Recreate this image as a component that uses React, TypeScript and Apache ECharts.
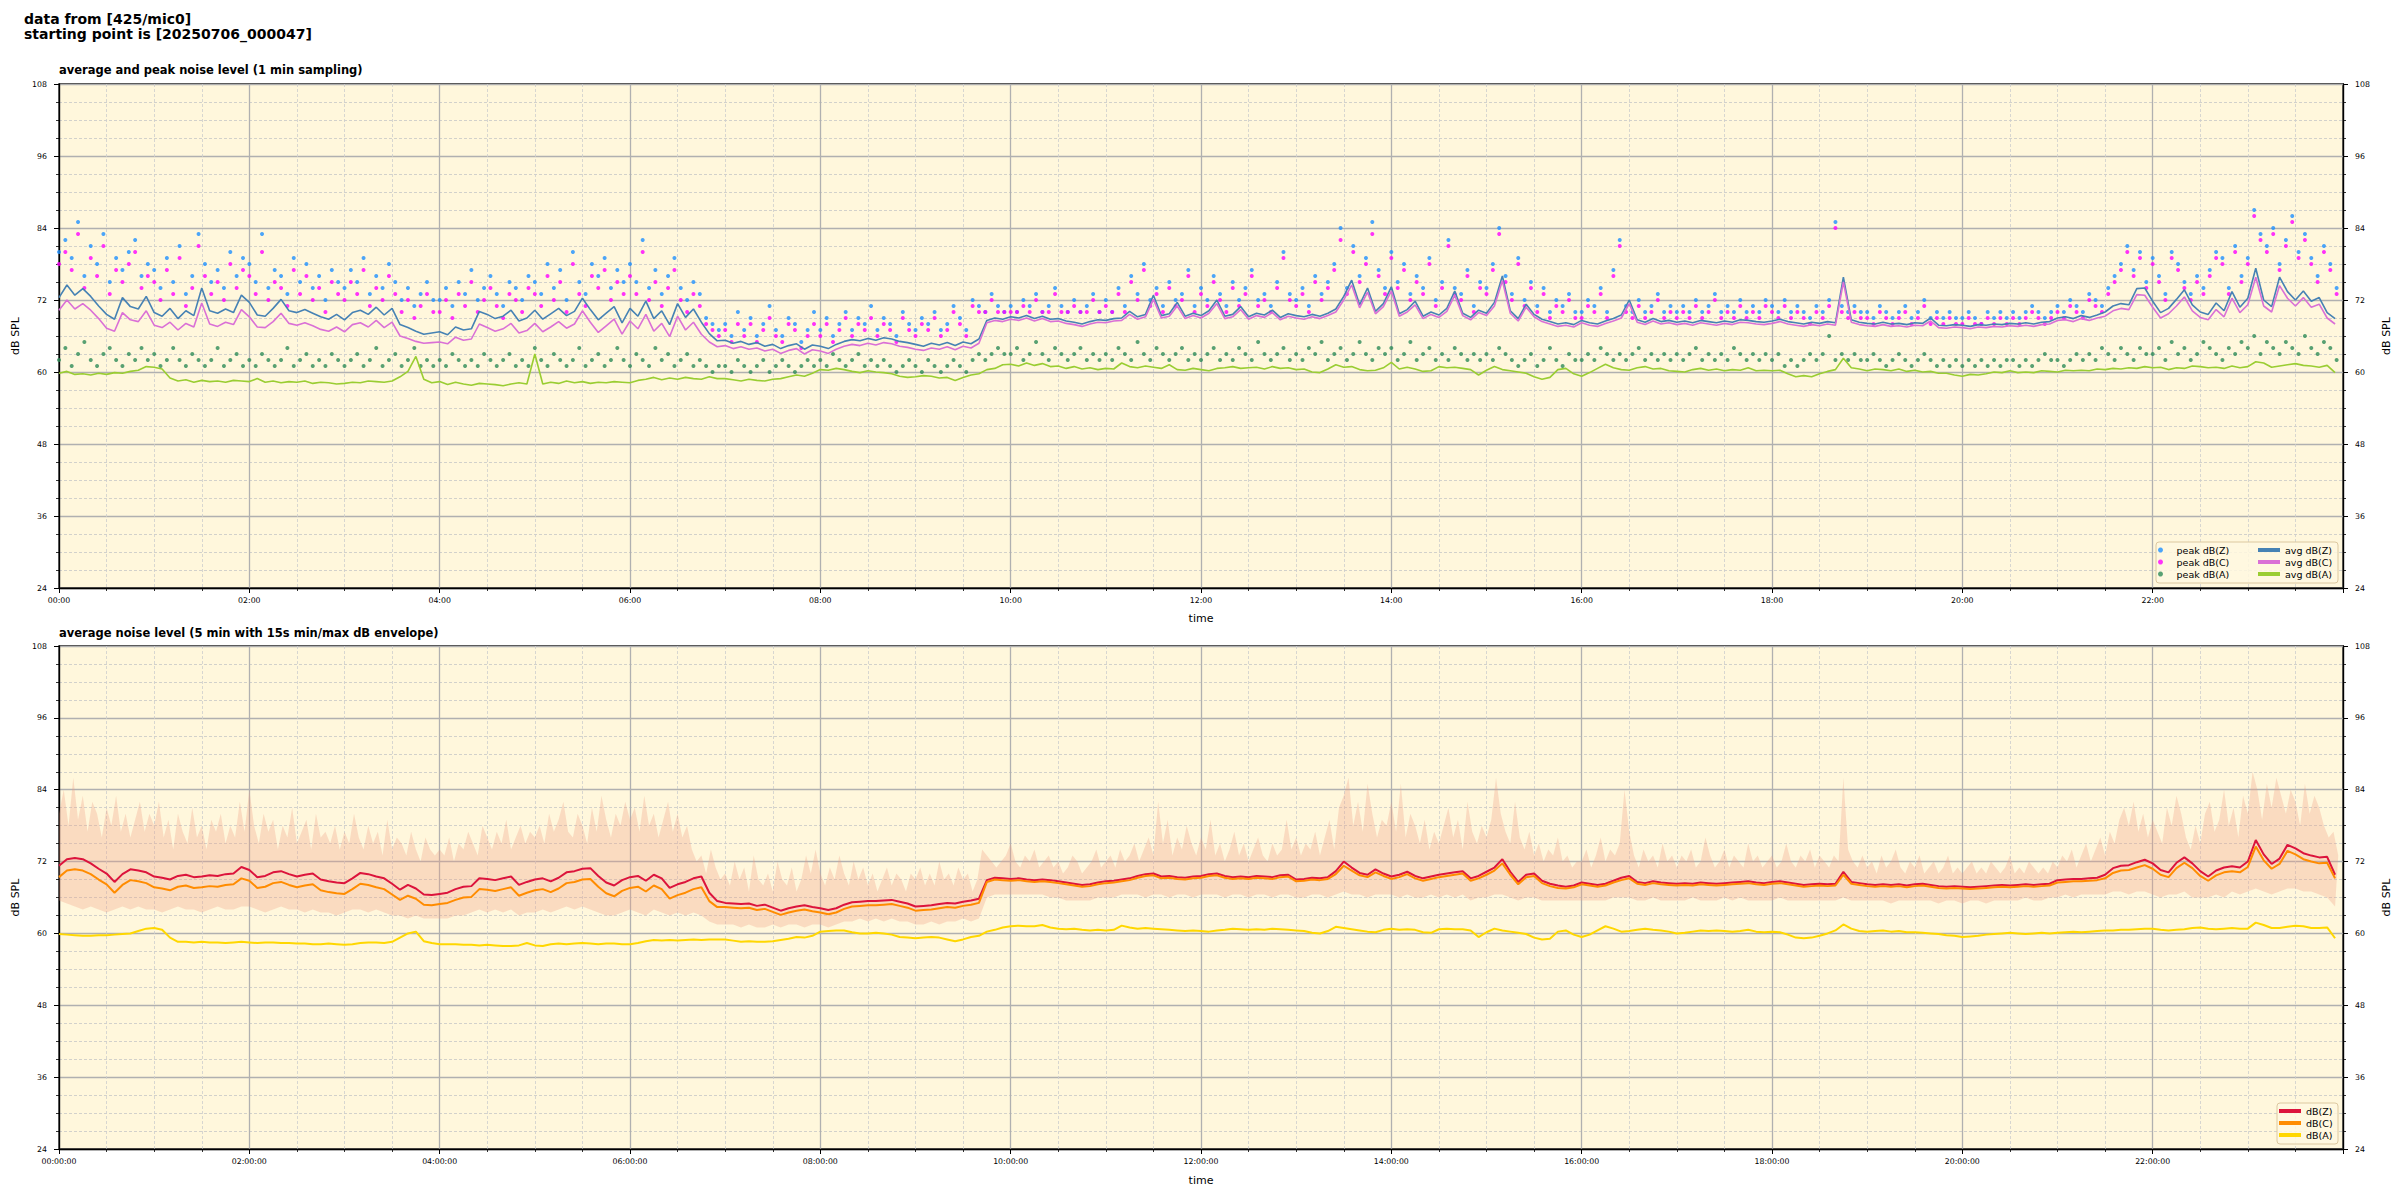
import React, { useEffect, useRef } from 'react';
import * as echarts from 'echarts';

// ---------- data (hour rows) ----------
// top panel: 1-min sampling shown at 5-min resolution (12 per hour)
const AVG_PER_HOUR = 12;
const avgZ = [
  72.4, 74.5, 72.8, 73.9, 72.6, 71.0, 69.6, 68.8, 72.4, 70.9, 70.5, 72.6,
  69.9, 69.3, 70.6, 68.9, 70.2, 69.4, 74.0, 70.2, 69.8, 70.5, 69.9, 72.8,
  71.6, 69.5, 69.3, 70.6, 72.1, 70.2, 69.9, 70.4, 69.8, 69.2, 68.8, 69.6,
  68.7, 69.9, 70.3, 69.6, 70.8, 69.5, 70.6, 67.9, 67.4, 66.8, 66.3, 66.5,
  66.7, 66.2, 67.5, 67.0, 67.2, 70.1, 69.6, 68.9, 69.3, 70.3, 68.5, 69.0,
  70.3, 68.8, 69.7, 70.6, 69.4, 70.1, 72.3, 70.4, 68.7, 69.8, 70.9, 68.2,
  70.6, 69.3, 71.8, 68.9, 70.2, 67.9, 71.4, 69.1, 70.5, 68.3, 66.4, 65.2,
  65.3, 64.8, 65.1, 64.6, 64.9, 64.3, 64.6, 63.9, 64.4, 64.7, 63.8, 64.5,
  64.3, 63.9, 64.6, 65.1, 65.4, 65.2, 65.6, 65.3, 65.7, 65.5, 65.1, 64.9,
  64.6, 64.3, 64.8, 64.5, 64.9, 64.4, 65.0, 64.7, 65.5, 68.6, 69.0, 68.8,
  69.2, 69.0, 69.4, 68.9, 69.3, 68.8, 68.9, 68.5, 68.3, 68.0, 68.4, 68.7,
  68.6, 68.9, 69.0, 70.1, 69.2, 69.6, 72.8, 69.4, 69.7, 71.6, 69.3, 69.8,
  69.4, 70.2, 72.0, 69.3, 69.6, 70.9, 69.2, 69.8, 69.5, 70.3, 69.1, 69.7,
  69.4, 69.2, 69.6, 69.3, 69.8, 70.5, 72.6, 75.3, 71.2, 74.0, 70.1, 71.4,
  74.2, 69.7, 70.4, 71.8, 69.3, 70.0, 69.5, 70.6, 73.5, 69.8, 69.1, 70.3,
  69.8, 71.6, 76.0, 70.2, 68.9, 71.3, 69.6, 68.8, 68.4, 68.0, 68.2, 67.9,
  68.6, 68.2, 68.0, 68.5, 68.9, 69.5, 72.0, 68.7, 68.3, 68.9, 68.4, 68.6,
  68.3, 68.5, 68.2, 68.6, 68.4, 68.2, 68.5, 68.3, 68.7, 68.6, 68.4, 68.3,
  68.5, 68.8, 68.4, 68.2, 68.0, 68.3, 68.1, 68.4, 68.2, 75.8, 68.7, 68.3,
  68.1, 68.0, 68.3, 68.0, 68.1, 67.9, 68.2, 68.1, 69.0, 67.8, 67.7, 67.9,
  67.8, 67.6, 67.9, 67.8, 68.0, 67.9, 68.1, 68.0, 68.2, 68.0, 68.3, 68.4,
  69.0, 69.2, 68.9, 69.4, 69.1, 69.5, 70.0, 71.0, 71.4, 71.2, 73.9, 74.0,
  71.8, 69.9, 70.6, 72.1, 73.7, 71.2, 70.0, 69.6, 71.5, 70.2, 73.4, 70.8,
  72.3, 77.3, 72.0, 70.9, 75.8, 73.4, 72.0, 73.5, 71.8, 72.4, 69.9, 68.9,
];
const avgC = [
  70.3, 72.0, 70.5, 71.4, 70.3, 68.9, 67.3, 66.8, 69.9, 68.7, 68.4, 70.2,
  67.8, 67.4, 68.3, 67.0, 68.1, 67.5, 71.5, 68.0, 67.6, 68.3, 67.9, 70.4,
  69.2, 67.5, 67.4, 68.4, 69.8, 68.1, 67.8, 68.2, 67.7, 67.1, 66.8, 67.5,
  66.7, 67.9, 68.2, 67.5, 68.6, 67.4, 68.3, 66.0, 65.6, 65.1, 64.8, 64.9,
  65.0, 64.7, 65.8, 65.3, 65.5, 68.0, 67.4, 66.8, 67.2, 68.1, 66.5, 66.9,
  68.1, 66.7, 67.5, 68.4, 67.3, 68.0, 70.2, 68.3, 66.6, 67.7, 68.8, 66.3,
  68.5, 67.2, 69.6, 66.8, 68.1, 65.9, 69.3, 67.0, 68.3, 66.3, 65.0, 64.2,
  64.4, 63.9, 64.2, 63.8, 64.0, 63.5, 63.8, 63.1, 63.6, 63.9, 63.0, 63.7,
  63.5, 63.1, 63.8, 64.3, 64.6, 64.4, 64.8, 64.5, 64.9, 64.7, 64.3, 64.1,
  63.8, 63.6, 64.0, 63.8, 64.2, 63.7, 64.3, 64.0, 64.8, 68.2, 68.6, 68.4,
  68.8, 68.6, 69.0, 68.5, 68.9, 68.4, 68.5, 68.1, 67.9, 67.6, 68.0, 68.3,
  68.2, 68.5, 68.6, 69.6, 68.8, 69.2, 72.1, 69.0, 69.3, 71.0, 68.9, 69.4,
  69.0, 69.8, 71.4, 68.9, 69.2, 70.4, 68.8, 69.4, 69.1, 69.9, 68.7, 69.3,
  69.0, 68.8, 69.2, 68.9, 69.4, 70.0, 72.0, 74.5, 70.7, 73.3, 69.7, 70.9,
  73.5, 69.3, 70.0, 71.2, 68.9, 69.6, 69.1, 70.1, 72.8, 69.4, 68.7, 69.9,
  69.4, 71.0, 75.2, 69.8, 68.5, 70.8, 69.2, 68.4, 68.0, 67.6, 67.8, 67.5,
  68.2, 67.8, 67.6, 68.1, 68.5, 69.0, 71.4, 68.3, 67.9, 68.5, 68.0, 68.2,
  67.9, 68.1, 67.8, 68.2, 68.0, 67.8, 68.1, 67.9, 68.3, 68.2, 68.0, 67.9,
  68.1, 68.4, 68.0, 67.8, 67.6, 67.9, 67.7, 68.0, 67.8, 75.0, 68.3, 67.9,
  67.7, 67.6, 67.9, 67.6, 67.7, 67.5, 67.8, 67.7, 68.5, 67.4, 67.3, 67.5,
  67.4, 67.2, 67.5, 67.4, 67.6, 67.5, 67.7, 67.6, 67.8, 67.6, 67.9, 68.0,
  68.6, 68.7, 68.4, 68.9, 68.6, 69.0, 69.3, 70.2, 70.6, 70.4, 72.9, 72.8,
  70.8, 69.0, 69.7, 71.0, 72.5, 70.2, 69.1, 68.7, 70.4, 69.2, 72.3, 69.9,
  71.2, 75.8, 71.0, 70.0, 74.4, 72.3, 71.0, 72.4, 70.8, 71.3, 69.0, 68.0,
];
const avgA = [
  59.8, 60.1, 59.6, 59.7, 59.5, 59.8, 59.6, 59.9, 59.8, 60.1, 60.3, 60.9,
  60.8, 60.5, 59.0, 58.5, 58.7, 58.3, 58.6, 58.4, 58.5, 58.3, 58.6, 58.5,
  58.4, 58.9, 58.3, 58.5, 58.2, 58.4, 58.3, 58.5, 58.1, 58.3, 58.2, 58.0,
  58.1, 58.3, 58.2, 58.5, 58.4, 58.3, 58.5, 59.2, 60.1, 62.6, 58.8, 58.2,
  58.4, 57.9, 58.3, 58.0, 57.8, 58.1, 58.0, 57.9, 57.7, 58.0, 58.2, 58.0,
  63.0, 58.0, 58.3, 58.1, 58.5, 58.2, 58.4, 58.1, 58.3, 58.2, 58.4, 58.3,
  58.2, 58.6, 58.8, 59.1, 58.7, 59.0, 58.8, 59.1, 58.9, 58.8, 59.2, 58.9,
  58.9, 58.7, 58.5, 58.8, 58.6, 58.5, 58.8, 58.9, 59.2, 59.5, 59.3, 59.8,
  60.4, 60.3, 60.6, 60.4, 60.1, 59.9, 60.2, 60.0, 59.9, 59.7, 59.3, 59.1,
  59.2, 59.4, 59.3, 59.0, 59.1, 58.6, 59.1, 59.5, 59.7, 60.4, 60.6, 61.2,
  61.3, 61.0, 61.5, 61.1, 61.4, 60.9, 61.0, 60.6, 60.9, 60.5, 60.7, 60.4,
  60.6, 60.5, 61.5, 60.9, 60.7, 61.0, 60.8, 60.6, 61.2, 60.4, 60.3, 60.6,
  60.4, 60.2, 60.6, 60.7, 60.9, 60.6, 60.7, 60.8, 60.5, 60.9, 60.6, 60.7,
  60.4, 60.5, 60.0, 59.9, 60.5, 61.2, 60.8, 60.9, 60.4, 60.2, 60.3, 60.7,
  61.6, 60.5, 60.8, 60.5, 60.1, 60.2, 60.9, 60.7, 60.8, 60.6, 60.4, 59.5,
  60.3, 60.9, 60.4, 60.2, 60.0, 59.8, 59.2, 58.8, 59.1, 60.4, 60.6, 59.7,
  59.3, 59.9, 60.6, 61.3, 60.7, 60.4, 60.3, 60.7, 60.9, 60.5, 60.6, 60.2,
  60.1, 60.0, 60.4, 60.6, 60.3, 60.5, 60.2, 60.4, 60.3, 60.7, 60.2, 60.3,
  60.2, 60.3, 59.7, 59.2, 59.4, 59.2, 59.7, 60.1, 60.4, 62.3, 60.7, 60.5,
  60.2, 60.5, 60.4, 60.2, 60.5, 60.1, 60.3, 60.0, 60.1, 59.8, 59.8, 59.5,
  59.3, 59.6, 59.5, 59.7, 60.0, 59.9, 60.2, 59.9, 60.0, 59.9, 60.2, 60.1,
  60.0, 60.3, 60.2, 60.3, 60.2, 60.5, 60.4, 60.6, 60.5, 60.7, 60.6, 60.9,
  60.7, 60.8, 60.4, 60.7, 60.6, 61.0, 60.9, 60.7, 60.8, 60.6, 61.0, 60.7,
  60.9, 61.7, 61.5, 60.8, 61.0, 61.2, 61.4, 61.1, 61.0, 60.8, 61.1, 59.9,
];

// peak values (4-min resolution, 15 per hour)
const PEAK_PER_HOUR = 15;
const peakZ = [
  80, 82, 79, 85, 76, 81, 78, 83, 75, 79, 77, 80, 82, 76, 78,
  77, 74, 79, 75, 81, 73, 76, 83, 78, 75, 77, 74, 80, 76, 79,
  78, 75, 83, 74, 77, 76, 73, 79, 75, 78, 74, 76, 72, 77, 75,
  74, 77, 75, 79, 73, 76, 74, 78, 75, 72, 74, 71, 73, 75, 72,
  72, 74, 71, 75, 73, 77, 72, 74, 76, 73, 71, 75, 74, 72, 76,
  75, 73, 78, 74, 77, 72, 80, 75, 73, 78, 76, 79, 74, 77, 75,
  78, 75, 82, 74, 77, 73, 76, 79, 74, 72, 75, 73, 69, 68, 67,
  68, 66, 70, 67, 69, 66, 68, 71, 67, 66, 69, 68, 65, 67, 70,
  67, 69, 66, 68, 70, 67, 69, 68, 71, 67, 69, 68, 66, 70, 68,
  67, 69, 68, 70, 67, 68, 71, 69, 67, 72, 71, 70, 73, 71, 70,
  71, 70, 72, 71, 73, 70, 71, 74, 71, 70, 72, 70, 71, 73, 70,
  72, 70, 74, 71, 76, 73, 78, 72, 74, 71, 75, 72, 73, 77, 71,
  74, 72, 76, 73, 71, 75, 72, 74, 77, 72, 73, 71, 75, 80, 73,
  72, 74, 71, 76, 73, 75, 78, 84, 74, 81, 76, 79, 85, 77, 74,
  80, 75, 78, 73, 76, 74, 79, 72, 75, 82, 74, 73, 77, 71, 75,
  74, 78, 84, 76, 73, 79, 72, 75, 71, 74, 70, 72, 71, 73, 70,
  70, 72, 71, 74, 70, 77, 82, 71, 70, 72, 70, 71, 73, 70, 71,
  70, 71, 70, 72, 70, 71, 73, 70, 71, 70, 72, 70, 71, 70, 72,
  71, 70, 72, 70, 71, 70, 69, 71, 70, 72, 85, 71, 70, 71, 70,
  70, 69, 71, 70, 69, 70, 71, 69, 70, 72, 69, 70, 69, 70, 69,
  69, 70, 69, 68, 70, 69, 70, 69, 70, 69, 70, 71, 70, 69, 70,
  71, 70, 72, 71, 70, 73, 72, 71, 74, 76, 78, 81, 77, 80, 75,
  79, 76, 73, 80, 78, 75, 73, 76, 74, 77, 80, 79, 74, 81, 76,
  79, 87, 83, 81, 84, 78, 82, 86, 80, 83, 79, 76, 81, 78, 74,
];
const peakC = [
  78, 80, 77, 83, 74, 79, 76, 81, 73, 77, 75, 78, 80, 74, 76,
  75, 72, 77, 73, 79, 71, 74, 81, 76, 73, 75, 72, 78, 74, 77,
  76, 73, 80, 72, 75, 74, 71, 77, 73, 76, 72, 74, 70, 75, 73,
  72, 75, 73, 77, 71, 74, 72, 76, 73, 70, 72, 69, 71, 73, 70,
  70, 72, 69, 73, 71, 75, 70, 72, 74, 71, 69, 73, 72, 70, 74,
  73, 71, 76, 72, 75, 70, 78, 73, 71, 76, 74, 77, 72, 75, 73,
  76, 73, 80, 72, 75, 71, 74, 77, 72, 70, 73, 71, 68, 67, 66,
  67, 65, 68, 66, 68, 65, 67, 69, 66, 65, 68, 67, 64, 66, 68,
  66, 68, 65, 67, 69, 66, 68, 67, 69, 66, 68, 67, 65, 69, 67,
  66, 68, 67, 69, 66, 67, 70, 68, 66, 71, 70, 70, 72, 70, 70,
  70, 70, 71, 70, 72, 70, 70, 73, 70, 70, 71, 70, 70, 72, 70,
  71, 70, 73, 70, 75, 72, 77, 71, 73, 70, 74, 71, 72, 76, 70,
  73, 71, 75, 72, 70, 74, 71, 73, 76, 71, 72, 70, 74, 79, 72,
  71, 73, 70, 75, 72, 74, 77, 82, 73, 80, 75, 78, 83, 76, 73,
  79, 74, 77, 72, 75, 73, 78, 71, 74, 81, 73, 72, 76, 70, 74,
  73, 77, 83, 75, 72, 78, 71, 74, 70, 73, 69, 71, 70, 72, 69,
  69, 71, 70, 73, 69, 76, 81, 70, 69, 71, 69, 70, 72, 69, 70,
  69, 70, 69, 71, 69, 70, 72, 69, 70, 69, 71, 69, 70, 69, 71,
  70, 69, 71, 69, 70, 69, 68, 70, 69, 71, 84, 70, 69, 70, 69,
  69, 68, 70, 69, 68, 69, 70, 68, 69, 71, 68, 69, 68, 69, 68,
  68, 69, 68, 68, 69, 68, 69, 68, 69, 68, 69, 70, 69, 68, 69,
  70, 69, 71, 70, 69, 72, 71, 70, 73, 75, 77, 80, 76, 79, 74,
  78, 75, 72, 79, 77, 74, 72, 75, 73, 76, 79, 78, 73, 80, 75,
  78, 86, 82, 80, 83, 77, 81, 85, 79, 82, 78, 75, 80, 77, 73,
];
const peakA = [
  62, 64, 61, 63, 65, 62, 61, 63, 64, 62, 61, 63, 62, 64, 62,
  63, 61, 62, 64, 62, 61, 63, 62, 61, 62, 64, 61, 62, 63, 61,
  62, 61, 63, 62, 61, 62, 64, 61, 62, 63, 61, 62, 61, 63, 62,
  61, 62, 63, 61, 62, 64, 61, 62, 63, 61, 62, 64, 61, 62, 61,
  62, 61, 63, 62, 61, 62, 61, 63, 62, 61, 62, 63, 61, 62, 61,
  64, 62, 61, 63, 62, 61, 62, 64, 61, 62, 63, 61, 62, 64, 62,
  61, 63, 62, 61, 64, 62, 63, 61, 62, 63, 61, 62, 61, 60, 61,
  61, 60, 62, 61, 60, 61, 62, 60, 61, 62, 61, 60, 61, 62, 61,
  62, 61, 63, 62, 61, 62, 63, 61, 62, 61, 62, 61, 60, 61, 62,
  61, 60, 62, 61, 60, 61, 62, 61, 60, 62, 63, 62, 63, 64, 63,
  63, 64, 62, 63, 65, 63, 62, 64, 63, 62, 63, 64, 62, 63, 62,
  63, 62, 64, 63, 62, 65, 63, 62, 64, 63, 62, 63, 64, 62, 63,
  62, 63, 64, 62, 63, 62, 64, 63, 62, 65, 63, 62, 63, 64, 62,
  63, 62, 64, 63, 65, 62, 63, 64, 62, 63, 65, 63, 62, 64, 63,
  64, 62, 63, 65, 62, 63, 64, 62, 63, 62, 64, 63, 62, 63, 62,
  63, 62, 64, 63, 62, 61, 62, 63, 61, 62, 64, 62, 61, 63, 62,
  62, 63, 62, 64, 63, 62, 63, 62, 63, 64, 62, 63, 62, 63, 62,
  63, 62, 63, 64, 62, 63, 62, 63, 62, 64, 63, 62, 63, 62, 63,
  62, 63, 61, 62, 61, 62, 63, 62, 63, 66, 62, 63, 62, 63, 62,
  62, 63, 62, 61, 62, 63, 62, 61, 62, 63, 62, 61, 62, 61, 62,
  61, 62, 61, 62, 61, 62, 61, 62, 62, 61, 62, 61, 62, 63, 62,
  62, 61, 62, 63, 62, 63, 62, 64, 63, 62, 64, 63, 62, 64, 63,
  63, 64, 62, 65, 63, 64, 62, 63, 65, 64, 63, 62, 64, 63, 65,
  64, 66, 63, 65, 64, 63, 65, 64, 63, 66, 64, 63, 65, 64, 62,
];

// bottom panel: 5-min averages (12 per hour)
const lvlZ = [
  71.3, 72.4, 72.6, 72.4, 71.7, 70.8, 70.0, 68.6, 69.9, 70.7, 70.5, 70.2,
  69.5, 69.3, 69.0, 69.6, 69.8, 69.4, 69.5, 69.7, 69.6, 69.9, 70.0, 71.1,
  70.6, 69.4, 69.6, 70.2, 70.4, 69.9, 69.5, 69.8, 70.0, 69.0, 68.7, 68.5,
  68.4, 69.2, 70.1, 69.9, 69.5, 69.2, 68.3, 67.3, 68.1, 67.5, 66.5, 66.4,
  66.6, 66.8, 67.4, 67.8, 67.9, 69.2, 69.1, 68.9, 69.2, 69.5, 68.1, 68.6,
  69.0, 69.2, 68.7, 69.3, 70.2, 70.4, 70.8, 70.9, 69.6, 68.5, 68.0, 68.9,
  69.4, 69.6, 68.8, 69.8, 69.2, 67.6, 68.2, 68.6, 69.2, 69.5, 66.8, 65.4,
  65.1, 65.0, 64.9, 65.0, 64.6, 64.8, 64.3, 63.8, 64.2, 64.5, 64.7, 64.4,
  64.2, 63.9, 64.2, 64.8, 65.2, 65.3, 65.4, 65.4, 65.5, 65.6, 65.3, 65.0,
  64.5, 64.6, 64.7, 64.9, 65.1, 65.0, 65.3, 65.5, 65.8, 68.9, 69.3, 69.2,
  69.1, 69.2, 69.0, 68.9, 69.0, 68.9, 68.7, 68.5, 68.3, 68.1, 68.2, 68.5,
  68.7, 68.8, 69.0, 69.2, 69.6, 69.9, 70.0, 69.5, 69.6, 69.4, 69.3, 69.5,
  69.6, 69.9, 70.0, 69.6, 69.4, 69.5, 69.4, 69.6, 69.5, 69.4, 69.7, 69.8,
  69.0, 69.1, 69.3, 69.2, 69.4, 70.4, 72.0, 71.0, 70.1, 69.8, 70.7, 70.0,
  69.5, 69.8, 70.3, 69.6, 69.2, 69.5, 69.8, 70.0, 70.2, 70.4, 69.2, 69.6,
  70.3, 71.0, 72.4, 70.3, 68.6, 69.8, 70.0, 68.8, 68.3, 68.0, 67.8, 68.0,
  68.5, 68.3, 68.1, 68.3, 68.8, 69.3, 69.6, 68.6, 68.4, 68.7, 68.5, 68.4,
  68.3, 68.4, 68.3, 68.5, 68.4, 68.3, 68.4, 68.5, 68.6, 68.7, 68.5, 68.4,
  68.6, 68.7, 68.5, 68.3, 68.1, 68.2, 68.3, 68.2, 68.3, 70.3, 68.6, 68.4,
  68.2, 68.1, 68.2, 68.1, 68.2, 68.0, 68.2, 68.3, 68.1, 67.9, 67.8, 67.9,
  67.8, 67.7, 67.8, 67.9, 68.0, 68.1, 68.0, 68.1, 68.2, 68.1, 68.2, 68.3,
  68.9, 69.0, 69.1, 69.1, 69.2, 69.3, 69.8, 70.9, 71.3, 71.4, 71.9, 72.3,
  71.7, 70.6, 70.2, 71.8, 72.7, 71.7, 70.4, 69.5, 70.5, 71.0, 71.2, 71.0,
  72.0, 75.6, 73.2, 71.6, 72.5, 74.8, 74.2, 73.4, 73.0, 72.7, 72.8, 69.8,
];
const lvlC = [
  69.4, 70.5, 70.7, 70.5, 69.9, 69.0, 68.2, 66.8, 68.1, 68.9, 68.7, 68.4,
  67.7, 67.5, 67.2, 67.8, 68.0, 67.6, 67.7, 67.9, 67.8, 68.1, 68.2, 69.2,
  68.8, 67.6, 67.8, 68.4, 68.6, 68.1, 67.7, 68.0, 68.2, 67.2, 66.9, 66.7,
  66.6, 67.4, 68.3, 68.1, 67.7, 67.4, 66.5, 65.6, 66.3, 65.8, 64.8, 64.7,
  64.9, 65.1, 65.6, 66.0, 66.1, 67.4, 67.3, 67.1, 67.4, 67.7, 66.3, 66.8,
  67.2, 67.4, 66.9, 67.5, 68.4, 68.6, 69.0, 69.1, 67.8, 66.7, 66.2, 67.1,
  67.6, 67.8, 67.0, 68.0, 67.4, 65.8, 66.4, 66.8, 67.4, 67.7, 65.4, 64.4,
  64.4, 64.3, 64.2, 64.3, 63.9, 64.1, 63.6, 63.1, 63.5, 63.8, 64.0, 63.7,
  63.5, 63.2, 63.5, 64.1, 64.5, 64.6, 64.7, 64.7, 64.8, 64.9, 64.6, 64.3,
  63.8, 63.9, 64.0, 64.2, 64.4, 64.3, 64.6, 64.8, 65.1, 68.6, 69.0, 68.9,
  68.8, 68.9, 68.7, 68.6, 68.7, 68.6, 68.4, 68.2, 68.0, 67.8, 67.9, 68.2,
  68.4, 68.5, 68.7, 68.9, 69.3, 69.6, 69.7, 69.2, 69.3, 69.1, 69.0, 69.2,
  69.3, 69.6, 69.7, 69.3, 69.1, 69.2, 69.1, 69.3, 69.2, 69.1, 69.4, 69.5,
  68.7, 68.8, 69.0, 68.9, 69.1, 69.9, 71.3, 70.5, 69.7, 69.4, 70.2, 69.6,
  69.1, 69.4, 69.9, 69.2, 68.8, 69.1, 69.4, 69.6, 69.8, 70.0, 68.8, 69.2,
  69.8, 70.5, 71.7, 69.8, 68.2, 69.4, 69.6, 68.4, 67.9, 67.6, 67.5, 67.7,
  68.2, 68.0, 67.8, 68.0, 68.5, 68.9, 69.2, 68.3, 68.1, 68.4, 68.2, 68.1,
  68.0, 68.1, 68.0, 68.2, 68.1, 68.0, 68.1, 68.2, 68.3, 68.4, 68.2, 68.1,
  68.3, 68.4, 68.2, 68.0, 67.8, 67.9, 68.0, 67.9, 68.0, 69.8, 68.3, 68.1,
  67.9, 67.8, 67.9, 67.8, 67.9, 67.7, 67.9, 68.0, 67.8, 67.6, 67.5, 67.6,
  67.5, 67.4, 67.5, 67.6, 67.7, 67.8, 67.7, 67.8, 67.9, 67.8, 67.9, 68.0,
  68.5, 68.6, 68.7, 68.7, 68.8, 68.9, 69.2, 70.1, 70.5, 70.6, 71.0, 71.4,
  70.8, 69.8, 69.4, 70.9, 71.8, 70.9, 69.6, 68.8, 69.7, 70.2, 70.4, 70.2,
  71.1, 74.5, 72.2, 70.8, 71.6, 73.8, 73.2, 72.4, 72.0, 71.7, 71.8, 69.2,
];
const lvlA = [
  59.9, 59.8, 59.7, 59.6, 59.6, 59.7, 59.7, 59.8, 59.9, 60.0, 60.4, 60.8,
  60.9, 60.6, 59.3, 58.6, 58.6, 58.5, 58.6, 58.5, 58.5, 58.4, 58.5, 58.6,
  58.5, 58.4, 58.5, 58.5, 58.4, 58.4, 58.3, 58.3, 58.2, 58.2, 58.3, 58.2,
  58.1, 58.2, 58.4, 58.5, 58.5, 58.4, 58.6, 59.3, 60.0, 60.3, 58.7, 58.4,
  58.2, 58.2, 58.2, 58.1, 58.1, 58.0, 58.1, 58.0, 57.9, 57.9, 58.0, 58.4,
  58.0, 57.9, 58.2, 58.3, 58.2, 58.3, 58.4, 58.3, 58.2, 58.3, 58.3, 58.2,
  58.2, 58.4, 58.7, 58.9, 58.8, 58.9, 58.8, 58.9, 59.0, 58.9, 59.0, 59.0,
  59.0, 58.8, 58.6, 58.7, 58.6, 58.6, 58.7, 58.9, 59.1, 59.4, 59.3, 59.6,
  60.3, 60.4, 60.5, 60.5, 60.2, 60.0, 60.0, 60.1, 60.0, 59.8, 59.4, 59.3,
  59.2, 59.3, 59.4, 59.3, 59.0, 58.7, 59.0, 59.4, 59.6, 60.3, 60.6, 61.0,
  61.2, 61.3, 61.2, 61.2, 61.4, 61.0, 60.8, 60.7, 60.8, 60.6, 60.5, 60.6,
  60.5, 60.6, 61.3, 61.0, 60.8, 60.9, 60.8, 60.7, 60.6, 60.5, 60.4, 60.5,
  60.4, 60.3, 60.5, 60.6, 60.8, 60.7, 60.6, 60.7, 60.6, 60.8, 60.7, 60.6,
  60.5, 60.4, 60.1, 60.0, 60.4, 61.1, 60.9, 60.7, 60.5, 60.3, 60.2, 60.6,
  60.8, 60.6, 60.7, 60.6, 60.2, 60.1, 60.7, 60.8, 60.7, 60.7, 60.5, 59.4,
  60.2, 60.8, 60.5, 60.3, 60.1, 59.9, 59.3, 59.0, 59.1, 60.3, 60.5, 59.8,
  59.4, 59.8, 60.5, 61.2, 60.8, 60.3, 60.4, 60.6, 60.8, 60.6, 60.5, 60.3,
  60.0, 60.1, 60.3, 60.5, 60.4, 60.5, 60.4, 60.3, 60.4, 60.6, 60.3, 60.2,
  60.3, 60.2, 59.8, 59.3, 59.2, 59.3, 59.6, 60.0, 60.5, 61.5, 60.8, 60.4,
  60.3, 60.4, 60.5, 60.3, 60.4, 60.2, 60.2, 60.1, 60.0, 59.9, 59.7, 59.6,
  59.4, 59.5, 59.6, 59.8, 59.9, 60.0, 60.1, 60.0, 59.9, 60.0, 60.1, 60.0,
  60.1, 60.2, 60.3, 60.2, 60.3, 60.4, 60.5, 60.5, 60.6, 60.6, 60.7, 60.8,
  60.8, 60.6, 60.5, 60.6, 60.7, 60.9, 61.0, 60.8, 60.7, 60.8, 60.9, 60.8,
  60.8, 61.8, 61.4, 60.9, 60.9, 61.1, 61.3, 61.2, 60.9, 60.9, 61.0, 59.2,
];

// 15s min/max envelope: max at 3-min resolution (20/h), min at 5-min (12/h)
const ENV_MAX_PER_HOUR = 20;
const envMax = [
  80, 84, 78, 86, 79, 83, 77, 82, 80, 76, 81, 78, 83, 77, 80, 76, 79, 82, 77, 80,
  78, 82, 76, 79, 74, 80, 77, 75, 81, 76, 78, 74, 79, 77, 80, 75, 78, 76, 82, 77,
  84, 78, 75, 80, 77, 79, 74, 78, 76, 81, 75, 77, 79, 74, 80, 76, 77, 75, 78, 74,
  77, 75, 80, 76, 74, 78, 75, 77, 73, 79, 74, 76, 75, 73, 77, 74, 72, 76, 74, 73,
  74, 73, 76, 72, 75, 74, 77, 75, 73, 78, 76, 74, 77, 75, 79, 74, 76, 78, 75, 77,
  76, 78, 75, 80, 77, 79, 82, 77, 76, 80, 78, 75, 81, 77, 83, 79, 76, 80, 78, 82,
  79, 81, 77, 83, 78, 80, 76, 79, 82, 77, 80, 76, 78, 74, 72, 73, 70, 74, 71, 69,
  70, 68, 72, 69, 71, 67, 73, 69, 68, 70, 67, 72, 69, 68, 71, 67, 69, 73, 70, 74,
  70, 68, 71, 69, 73, 70, 68, 72, 69, 71, 68, 70, 67, 69, 71, 68, 70, 69, 67, 70,
  69, 71, 68, 70, 68, 72, 69, 70, 68, 71, 69, 70, 67, 69, 74, 73, 72, 71, 72, 73,
  75, 72, 71, 73, 72, 74, 71, 72, 73, 71, 72, 70, 71, 73, 72, 70, 71, 72, 74, 71,
  72, 73, 71, 74, 72, 73, 75, 72, 74, 76, 73, 82, 75, 79, 73, 76, 74, 78, 75, 73,
  76, 74, 79, 73, 75, 72, 74, 77, 73, 75, 72, 74, 76, 73, 72, 75, 73, 74, 79, 74,
  76, 73, 75, 74, 77, 73, 76, 79, 74, 81, 83, 86, 78, 82, 77, 85, 80, 76, 79, 78,
  82, 77, 85, 76, 80, 78, 75, 79, 74, 77, 75, 78, 81, 76, 79, 74, 82, 77, 75, 78,
  76, 79, 86, 80, 77, 75, 82, 76, 74, 77, 73, 75, 72, 74, 73, 76, 72, 73, 71, 72,
  72, 74, 71, 73, 76, 72, 74, 73, 75, 84, 77, 73, 71, 74, 72, 73, 71, 75, 72, 73,
  71, 73, 72, 74, 71, 72, 76, 73, 71, 72, 74, 71, 73, 72, 71, 75, 72, 73, 71, 72,
  73, 71, 72, 75, 72, 71, 73, 72, 74, 71, 73, 72, 71, 73, 72, 86, 74, 72, 71, 73,
  71, 72, 70, 73, 71, 72, 74, 71, 70, 72, 71, 73, 70, 71, 72, 70, 71, 73, 70, 71,
  70, 71, 72, 70, 71, 70, 72, 71, 70, 71, 73, 70, 71, 70, 72, 71, 70, 71, 70, 72,
  71, 73, 72, 74, 71, 73, 75, 72, 74, 76, 73, 77, 75, 79, 81, 78, 82, 77, 80, 76,
  79, 77, 75, 81, 78, 83, 80, 76, 74, 78, 75, 80, 82, 77, 79, 84, 78, 81, 76, 83,
  80, 87, 84, 79, 85, 81, 86, 83, 80, 84, 82, 78, 85, 80, 83, 81, 78, 76, 77, 73,
];
const ENV_MIN_PER_HOUR = 12;
const envMin = [
  65.5, 65.0, 64.5, 64.0, 64.5, 64.0, 63.5, 64.0, 64.5, 64.0, 64.5, 64.0,
  64.0, 63.5, 64.0, 64.5, 64.0, 64.0, 63.5, 64.0, 64.5, 64.0, 64.0, 64.5,
  64.5, 64.0, 63.5, 64.0, 64.5, 64.0, 64.0, 63.5, 64.0, 63.5, 63.5, 63.0,
  63.5, 64.0, 64.0, 63.5, 64.0, 63.5, 63.0, 63.0, 62.5, 63.0, 62.5, 62.5,
  62.5, 62.5, 63.0, 63.0, 63.5, 64.0, 63.5, 64.0, 63.5, 64.0, 63.0, 63.5,
  63.5, 64.0, 63.5, 64.0, 64.5, 64.0, 64.5, 64.0, 63.5, 63.0, 63.0, 63.5,
  64.0, 63.5, 63.0, 64.0, 63.5, 63.0, 63.5, 63.0, 63.5, 63.0, 62.0, 61.5,
  61.5, 61.5, 61.0, 61.5, 61.0, 61.0, 61.5, 61.0, 61.5, 61.5, 61.0, 61.5,
  61.5, 61.0, 61.5, 62.0, 62.0, 62.5, 62.0, 62.5, 62.0, 62.5, 62.0, 62.0,
  61.5, 61.5, 62.0, 61.5, 62.0, 62.0, 62.5, 62.0, 62.5, 66.0, 66.5, 66.5,
  66.5, 66.5, 66.5, 66.5, 66.5, 66.0, 66.0, 65.5, 65.5, 65.5, 65.5, 66.0,
  66.0, 66.0, 66.5, 66.5, 66.5, 66.0, 66.5, 66.5, 66.0, 66.5, 66.5, 66.0,
  66.5, 66.5, 66.5, 66.0, 66.5, 66.5, 66.0, 66.5, 66.5, 66.0, 66.5, 66.5,
  66.0, 66.0, 66.5, 66.5, 66.0, 66.5, 67.0, 66.5, 66.5, 66.0, 66.5, 66.5,
  66.5, 66.0, 66.5, 66.0, 66.0, 66.5, 66.0, 66.5, 66.0, 66.5, 65.5, 66.0,
  66.0, 66.5, 66.5, 66.0, 65.5, 66.0, 66.0, 65.5, 65.5, 65.5, 65.5, 65.5,
  65.5, 65.5, 65.5, 65.5, 66.0, 66.0, 66.0, 65.5, 65.5, 66.0, 65.5, 65.5,
  65.5, 65.5, 66.0, 65.5, 65.5, 65.5, 66.0, 65.5, 66.0, 65.5, 65.5, 65.5,
  65.5, 66.0, 65.5, 65.5, 65.5, 65.5, 65.5, 65.5, 65.5, 66.0, 65.5, 65.5,
  65.5, 65.5, 65.5, 65.0, 65.5, 65.5, 65.5, 65.5, 65.5, 65.0, 65.5, 65.5,
  65.0, 65.5, 65.5, 65.0, 65.5, 65.5, 65.5, 65.5, 66.0, 65.5, 65.5, 66.0,
  66.0, 66.5, 66.0, 66.5, 66.5, 66.5, 66.5, 67.0, 67.0, 66.5, 67.0, 67.0,
  66.5, 66.0, 66.5, 66.5, 67.0, 66.0, 66.0, 66.0, 66.5, 66.0, 67.0, 66.5,
  67.0, 67.5, 67.0, 66.5, 67.0, 67.5, 67.5, 67.0, 67.0, 66.5, 66.0, 64.5,
];

const Y_TICKS = { min: 24, max: 108, interval: 12 };
const X_TICKS = { min: 0, max: 24, interval: 2 };

// ---------- chart ----------
const FONT = 'DejaVu Sans';
const BG = '#fff7dc';

const withTime = (arr: number[], perHour: number) => arr.map((v, i) => [i / perHour, v]);
const hh = (v: number) => String(Math.round(v)).padStart(2, '0');

function xAxisFor(gridIndex: number, withSeconds: boolean, nameGap: number) {
  return {
    type: 'value',
    gridIndex,
    min: X_TICKS.min,
    max: X_TICKS.max,
    interval: X_TICKS.interval,
    name: 'time',
    nameLocation: 'middle',
    nameGap,
    nameTextStyle: { fontSize: 11, color: '#000', fontFamily: FONT },
    axisLine: { show: true, onZero: false, lineStyle: { color: '#000', width: 1.3 } },
    axisTick: { show: true, length: 5, lineStyle: { color: '#000', width: 1 } },
    minorTick: { show: true, splitNumber: 4, length: 3, lineStyle: { color: '#000', width: 0.8 } },
    axisLabel: {
      fontSize: 7.8,
      color: '#000',
      margin: 8,
      fontFamily: FONT,
      showMaxLabel: false,
      formatter: (v: number) => hh(v) + (withSeconds ? ':00:00' : ':00'),
    },
    splitLine: { show: true, lineStyle: { color: '#b0b0b0', width: 1.3 } },
    minorSplitLine: { show: true, lineStyle: { color: '#cdcdcd', width: 0.8, type: [3, 2] } },
  };
}

function yAxisFor(gridIndex: number, position: 'left' | 'right') {
  const left = position === 'left';
  return {
    type: 'value',
    gridIndex,
    position,
    min: Y_TICKS.min,
    max: Y_TICKS.max,
    interval: Y_TICKS.interval,
    name: 'dB SPL',
    nameLocation: 'middle',
    nameGap: left ? 34 : 33,
    nameRotate: 90,
    nameTextStyle: { fontSize: 11, color: '#000', fontFamily: FONT },
    axisLine: { show: true, onZero: false, lineStyle: { color: '#000', width: 1.3 } },
    axisTick: { show: true, length: 5, lineStyle: { color: '#000', width: 1 } },
    minorTick: { show: true, splitNumber: 4, length: 3, lineStyle: { color: '#000', width: 0.8 } },
    axisLabel: { fontSize: 7.8, color: '#000', margin: 12, fontFamily: FONT },
    splitLine: { show: left, lineStyle: { color: '#b0b0b0', width: 1.3 } },
    minorSplitLine: { show: left, lineStyle: { color: '#c6c6c6', width: 0.8, type: [3, 2] } },
  };
}

const legendText = { fontSize: 9.5, lineHeight: 12, color: '#000', fontFamily: FONT };

function buildOption() {
  const scatter = (name: string, data: number[], color: string) => ({
    type: 'scatter',
    name,
    xAxisIndex: 0,
    yAxisIndex: 0,
    data: withTime(data, PEAK_PER_HOUR),
    symbol: 'circle',
    symbolSize: 4,
    itemStyle: { color },
    silent: true,
    z: 2,
  });
  const line = (name: string, data: number[], perHour: number, color: string, width: number, xi: number, yi: number, z: number) => ({
    type: 'line',
    name,
    xAxisIndex: xi,
    yAxisIndex: yi,
    data: withTime(data, perHour),
    showSymbol: false,
    symbol: 'none',
    lineStyle: { color, width },
    itemStyle: { color },
    silent: true,
    z,
  });

  return {
    animation: false,
    backgroundColor: '#ffffff',
    textStyle: { fontFamily: FONT },
    title: [
      {
        text: 'data from [425/mic0]\nstarting point is [20250706_000047]',
        left: 24,
        top: 11,
        padding: 0,
        textStyle: { fontSize: 14, fontWeight: 'bold', lineHeight: 15, color: '#000', fontFamily: FONT },
      },
      {
        text: 'average and peak noise level (1 min sampling)',
        left: 59,
        top: 64,
        padding: 0,
        textStyle: { fontSize: 11.5, fontWeight: 'bold', lineHeight: 12, color: '#000', fontFamily: FONT },
      },
      {
        text: 'average noise level (5 min with 15s min/max dB envelope)',
        left: 59,
        top: 627,
        padding: 0,
        textStyle: { fontSize: 11.5, fontWeight: 'bold', lineHeight: 12, color: '#000', fontFamily: FONT },
      },
    ],
    grid: [
      { left: 59, top: 84, width: 2284, height: 504, show: true, backgroundColor: BG, borderColor: '#000', borderWidth: 1.3 },
      { left: 59, top: 646, width: 2284, height: 503, show: true, backgroundColor: BG, borderColor: '#000', borderWidth: 1.3 },
    ],
    xAxis: [xAxisFor(0, false, 25), xAxisFor(1, true, 26)],
    yAxis: [yAxisFor(0, 'left'), yAxisFor(0, 'right'), yAxisFor(1, 'left'), yAxisFor(1, 'right')],
    legend: [
      {
        data: ['peak dB(Z)', 'peak dB(C)', 'peak dB(A)'],
        orient: 'vertical',
        left: 2158,
        top: 544,
        padding: 0,
        itemGap: 0,
        itemWidth: 22,
        itemHeight: 5,
        icon: 'circle',
        selectedMode: false,
        textStyle: legendText,
        z: 10,
      },
      {
        data: ['avg dB(Z)', 'avg dB(C)', 'avg dB(A)'],
        orient: 'vertical',
        left: 2258,
        top: 544,
        padding: 0,
        itemGap: 0,
        itemWidth: 22,
        itemHeight: 4,
        icon: 'rect',
        selectedMode: false,
        textStyle: legendText,
        z: 10,
      },
      {
        data: ['dB(Z)', 'dB(C)', 'dB(A)'],
        orient: 'vertical',
        left: 2279,
        top: 1105,
        padding: 0,
        itemGap: 0,
        itemWidth: 22,
        itemHeight: 4,
        icon: 'rect',
        selectedMode: false,
        textStyle: legendText,
        z: 10,
      },
    ],
    graphic: [
      {
        type: 'rect',
        z: 5,
        silent: true,
        shape: { x: 2156, y: 542, width: 182, height: 41, r: 3 },
        style: { fill: 'rgba(255,248,224,0.85)', stroke: '#dcc8a0', lineWidth: 1 },
      },
      {
        type: 'rect',
        z: 5,
        silent: true,
        shape: { x: 2277, y: 1103, width: 61, height: 41, r: 3 },
        style: { fill: 'rgba(255,248,224,0.85)', stroke: '#dcc8a0', lineWidth: 1 },
      },
    ],
    series: [
      scatter('peak dB(Z)', peakZ, '#1e90ff'),
      scatter('peak dB(C)', peakC, '#ff00ff'),
      scatter('peak dB(A)', peakA, '#2e8b57'),
      line('avg dB(Z)', avgZ, AVG_PER_HOUR, '#4682b4', 1.6, 0, 0, 3),
      line('avg dB(C)', avgC, AVG_PER_HOUR, '#da70d6', 1.6, 0, 0, 3),
      line('avg dB(A)', avgA, AVG_PER_HOUR, '#9acd32', 1.6, 0, 0, 3),
      {
        type: 'custom',
        name: 'envelope',
        xAxisIndex: 1,
        yAxisIndex: 2,
        silent: true,
        z: 1,
        data: [[12, 66]],
        renderItem: (_params: any, api: any) => {
          const upper = envMax.map((v, i) => api.coord([i / ENV_MAX_PER_HOUR, v]));
          const lower = envMin.map((v, i) => api.coord([i / ENV_MIN_PER_HOUR, v])).reverse();
          return {
            type: 'polygon',
            shape: { points: upper.concat(lower) },
            style: { fill: '#f09a80', opacity: 0.3 },
          };
        },
      },
      line('dB(Z)', lvlZ, AVG_PER_HOUR, '#dc143c', 2, 1, 2, 3),
      line('dB(C)', lvlC, AVG_PER_HOUR, '#ff8c00', 2, 1, 2, 3),
      line('dB(A)', lvlA, AVG_PER_HOUR, '#ffd700', 2, 1, 2, 3),
    ],
  };
}

export default function App() {
  const ref = useRef<HTMLDivElement>(null);
  useEffect(() => {
    if (!ref.current) return;
    const chart = echarts.init(ref.current, null, { renderer: 'svg' });
    chart.setOption(buildOption() as any);
    return () => chart.dispose();
  }, []);
  return (
    <div
      ref={ref}
      style={{ position: 'fixed', left: 0, top: 0, width: 2400, height: 1200, background: '#fff' }}
    />
  );
}
